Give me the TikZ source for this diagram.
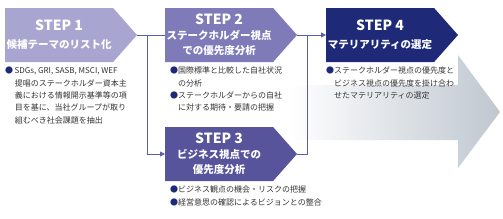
\documentclass[tikz,border=0pt]{standalone}
\usepackage{fontspec}
\setmainfont{Noto Sans CJK JP}
\usepackage{xcolor}
\usepackage{tikz}
\usetikzlibrary{shapes.symbols, arrows.meta, positioning, calc}
\definecolor{stepone}{HTML}{A9A5D1}
\definecolor{steptwo}{HTML}{7F7BB9}
\definecolor{stepthree}{HTML}{57549C}
\definecolor{stepfour}{HTML}{1E2A78}
\definecolor{linecol}{HTML}{5B5FA8}
\definecolor{dotcol}{HTML}{1E2A78}
\definecolor{textgray}{HTML}{333333}
\definecolor{arrowgray}{HTML}{BFC7D0}
\newcommand{\stepdot}{\textcolor{dotcol}{●}}
\newcommand{\steptitle}[1]{{\fontsize{14}{16}\selectfont #1}}

\begin{document}
\begin{tikzpicture}[x=1pt, y=1pt,
    stepbox/.style={signal, signal to=east, signal pointer angle=97,
                    minimum width=132pt, minimum height=54pt, inner sep=0pt, outer sep=0pt,
                    text=white, font=\fontsize{10.5}{15}\bfseries\selectfont, align=center},
    bullets/.style={anchor=north west, inner sep=0pt, align=left,
                    font=\fontsize{8}{12.3}\selectfont, text=textgray},
    conn/.style={draw=linecol, line width=0.9pt},
    arrow/.style={conn, -{Triangle[length=5pt, width=5pt]}, color=linecol},
]
\useasboundingbox (0,0) rectangle (503,-218);

\shade[left color=white, right color=arrowgray]
    (290,-85) -- (458,-85) -- (458,-55) -- (500,-112) -- (458,-168) -- (458,-140) -- (290,-140) -- cycle;

\node[stepbox, fill=stepone, anchor=west] (s1) at (5,-35) {\steptitle{STEP 1}\\[3pt]候補テーマのリスト化};
\node[stepbox, fill=steptwo, right=28pt of s1] (s2) {\steptitle{STEP 2}\\ステークホルダー視点\\での優先度分析};
\node[stepbox, fill=stepfour, right=29pt of s2] (s4) {\steptitle{STEP 4}\\[3pt]マテリアリティの選定};
\node[stepbox, fill=stepthree, below=65pt of s2] (s3) {\steptitle{STEP 3}\\ビジネス視点での\\優先度分析};

\node[bullets] (b1) at ([yshift=-5pt]s1.south west) {\stepdot\,SDGs, GRI, SASB, MSCI, WEF\\
    \hspace*{1.2em}提唱のステークホルダー資本主\\
    \hspace*{1.2em}義における情報開示基準等の項\\
    \hspace*{1.2em}目を基に、当社グループが取り\\
    \hspace*{1.2em}組むべき社会課題を抽出};
\node[bullets] (b2) at ([xshift=5pt, yshift=-5pt]s2.south west) {\stepdot 国際標準と比較した自社状況\\
    \hspace*{1em}の分析\\
    \stepdot ステークホルダーからの自社\\
    \hspace*{1em}に対する期待・要請の把握};
\node[bullets] (b3) at ([xshift=5pt, yshift=-5pt]s3.south west) {\stepdot ビジネス観点の機会・リスクの把握\\
    \stepdot 経営意思の確認によるビジョンとの整合};
\node[bullets] (b4) at ([yshift=-5pt]s4.south west) {\stepdot ステークホルダー視点の優先度と\\
    \hspace*{1em}ビジネス視点の優先度を掛け合わ\\
    \hspace*{1em}せたマテリアリティの選定};

\coordinate (j1) at ([xshift=10pt]s1.east);
\coordinate (j2) at ([xshift=10pt]s2.east);
\draw[conn] (s1.east) -- (s2.west);
\draw[arrow] (j1) |- (s3.west);
\draw[arrow] (s2.east) -- (s4.west);
\draw[conn] (s3.east) -| (j2);

\end{tikzpicture}
\end{document}
